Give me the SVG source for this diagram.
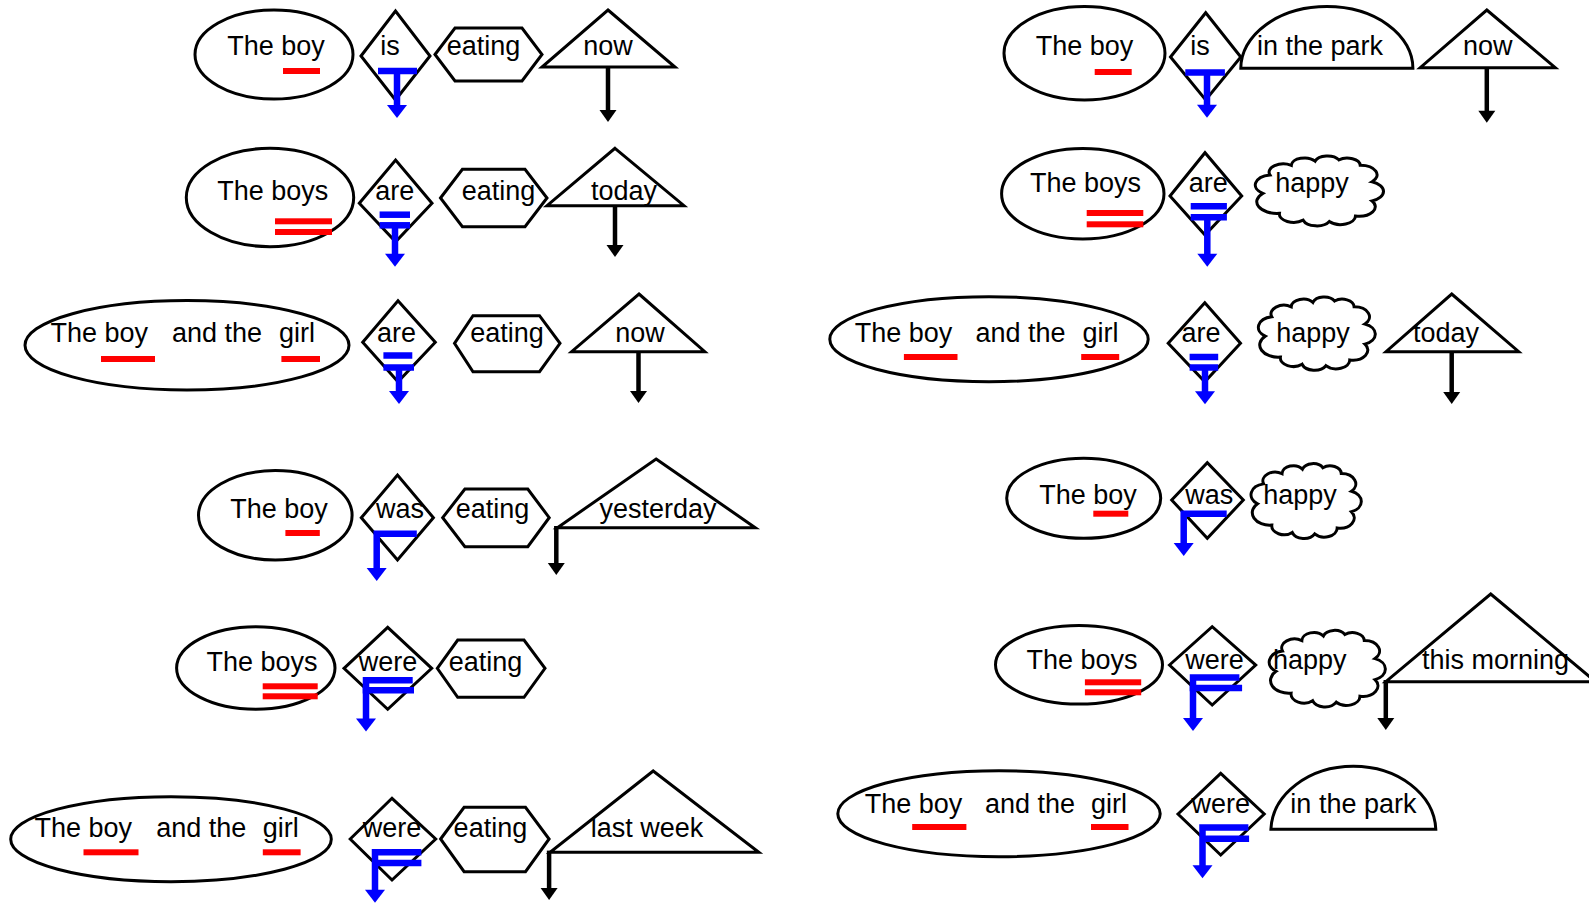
<svg xmlns="http://www.w3.org/2000/svg" xmlns:xlink="http://www.w3.org/1999/xlink" width="1589" height="903" viewBox="0 0 1589 903">
<style>
.s{fill:none;stroke:#000;stroke-width:3;stroke-linejoin:miter}
.t{font-family:"Liberation Sans",Arial,sans-serif;font-size:27px;fill:#000}
.m{text-anchor:middle}
.r{fill:#f00;stroke:none}
.b{fill:none;stroke:#00f;stroke-width:6.5}
.k{fill:none;stroke:#000;stroke-width:4.5}
.cl{fill:none;stroke:#000;stroke-width:3;vector-effect:non-scaling-stroke}
</style>
<defs>
<marker id="ab" markerUnits="userSpaceOnUse" markerWidth="14" markerHeight="20" refX="1" refY="10" orient="auto" overflow="visible"><path d="M0,0 L13,10 L0,20 Z" fill="#00f"/></marker>
<marker id="ak" markerUnits="userSpaceOnUse" markerWidth="13" markerHeight="17" refX="1" refY="8.5" orient="auto" overflow="visible"><path d="M0,0 L12,8.5 L0,17 Z" fill="#000"/></marker>
<path id="cloud" class="cl" d="M4,55 A15,15 0 0 1 10,28 A12,12 0 0 1 28,14 A11,11 0 0 1 48,8 A11,11 0 0 1 68,6 A11,11 0 0 1 86,14 A14,14 0 0 1 96,38 A15,15 0 0 1 96,66 A14,14 0 0 1 82,88 A12.5,12.5 0 0 1 60,96 A12,12 0 0 1 38,94 A12,12 0 0 1 18,84 A17,17 0 0 1 4,55 Z"/>
</defs>
<rect width="1589" height="903" fill="#fff"/>

<!-- Row 1 left -->
<g id="L1-subject"><ellipse class="s" cx="274" cy="54.5" rx="79" ry="44.5"/><text class="t m" x="276" y="55">The boy</text><rect class="r" x="283" y="68" width="37" height="6"/></g>
<g id="L1-verb"><polygon class="s" points="361,56 395.5,11 430,56 395.5,100"/><text class="t m" x="390" y="55">is</text></g>
<g id="L1-eating"><polygon class="s" points="435,54.5 455,28 522,28 542,54.5 522,81 455,81"/><text class="t m" x="483.5" y="55">eating</text></g>
<g id="L1-time"><polygon class="s" points="608,10 675,67 542,67"/><text class="t m" x="608" y="55">now</text></g>

<!-- Row 2 left -->
<g id="L2-subject"><ellipse class="s" cx="270" cy="197.5" rx="83.7" ry="49.2"/><text class="t m" x="272.7" y="200">The boys</text><rect class="r" x="275" y="218.3" width="57" height="6"/><rect class="r" x="275" y="229" width="57" height="6"/></g>
<g id="L2-verb"><polygon class="s" points="359.3,203.3 395.6,160 432,203.3 395.6,241.7"/><text class="t m" x="394.7" y="200">are</text></g>
<g id="L2-eating"><polygon class="s" points="440.5,198 462.4,169.3 525,169.3 547,198 525,226.7 462.4,226.7"/><text class="t m" x="498.6" y="200">eating</text></g>
<g id="L2-time"><polygon class="s" points="615,148.3 684,205.7 547,205.7"/><text class="t m" x="624" y="200">today</text></g>

<!-- Row 3 left -->
<g id="L3-subject"><ellipse class="s" cx="187" cy="345.3" rx="162" ry="44.7"/><text class="t" y="342.3"><tspan x="50.5">The boy</tspan><tspan x="172">and the</tspan><tspan x="279">girl</tspan></text><rect class="r" x="101" y="356" width="54" height="6"/><rect class="r" x="281.4" y="356" width="38.6" height="6"/></g>
<g id="L3-verb"><polygon class="s" points="362.7,342.3 398,300.7 435.3,342.3 398,381.7"/><text class="t m" x="396.5" y="342.3">are</text></g>
<g id="L3-eating"><polygon class="s" points="454.5,343.3 473,315.7 539.5,315.7 560,343.3 539.5,371.7 473,371.7"/><text class="t m" x="507" y="342.3">eating</text></g>
<g id="L3-time"><polygon class="s" points="639,294 704.8,351.7 571.6,351.7"/><text class="t m" x="640" y="342.3">now</text></g>

<!-- Row 4 left -->
<g id="L4-subject"><ellipse class="s" cx="275.3" cy="515.3" rx="76.8" ry="44.7"/><text class="t m" x="279" y="517.7">The boy</text><rect class="r" x="285.4" y="530" width="34.4" height="6"/></g>
<g id="L4-verb"><polygon class="s" points="361.3,517.7 397.5,475 433.4,517.7 397.5,560"/><text class="t m" x="400" y="517.7">was</text></g>
<g id="L4-eating"><polygon class="s" points="442.7,517.7 464.9,489 527.8,489 549.2,517.7 527.8,546.7 464.9,546.7"/><text class="t m" x="492.6" y="517.7">eating</text></g>
<g id="L4-time"><polygon class="s" points="656.1,459 755.3,527.7 557.4,527.7"/><text class="t m" x="658" y="517.7">yesterday</text></g>

<!-- Row 5 left -->
<g id="L5-subject"><ellipse class="s" cx="255.8" cy="668" rx="79.2" ry="41.3"/><text class="t m" x="262" y="671">The boys</text><rect class="r" x="262.7" y="683.3" width="55" height="6"/><rect class="r" x="262.7" y="693.3" width="55" height="6"/></g>
<g id="L5-verb"><polygon class="s" points="344,668.3 387.7,627.3 431.7,668.3 387.7,709.3"/><text class="t m" x="388" y="671">were</text></g>
<g id="L5-eating"><polygon class="s" points="437.3,668.3 457.7,640 524,640 545,668.3 524,697.3 457.7,697.3"/><text class="t m" x="485.5" y="671">eating</text></g>

<!-- Row 6 left -->
<g id="L6-subject"><ellipse class="s" cx="171" cy="839.2" rx="160.3" ry="42.5"/><text class="t" y="836.7"><tspan x="34.4">The boy</tspan><tspan x="156.2">and the</tspan><tspan x="262.8">girl</tspan></text><rect class="r" x="83.5" y="849.3" width="55" height="6"/><rect class="r" x="262.8" y="849.3" width="37.8" height="6"/></g>
<g id="L6-verb"><polygon class="s" points="350.2,839 392,798.3 435.7,839 392,880"/><text class="t m" x="392" y="836.7">were</text></g>
<g id="L6-eating"><polygon class="s" points="440.6,839 464.1,807.3 525.5,807.3 549.1,839 525.5,871.7 464.1,871.7"/><text class="t m" x="490.4" y="836.7">eating</text></g>
<g id="L6-time"><polygon class="s" points="653.2,771 758.8,852.3 550.1,852.3"/><text class="t m" x="647" y="836.7">last week</text></g>

<!-- Row 1 right -->
<g id="R1-subject"><ellipse class="s" cx="1084.5" cy="53.3" rx="80.5" ry="46.7"/><text class="t m" x="1084.5" y="55">The boy</text><rect class="r" x="1094.7" y="69" width="37" height="6"/></g>
<g id="R1-verb"><polygon class="s" points="1170.5,57 1205.7,12.7 1240.8,57 1205.7,100"/><text class="t m" x="1200" y="55">is</text></g>
<g id="R1-place"><path class="s" d="M1240.8,68.3 A86,61.7 0 0 1 1412.9,68.3 Z"/><text class="t m" x="1320" y="55">in the park</text></g>
<g id="R1-time"><polygon class="s" points="1486.8,10 1555.3,67.7 1420.2,67.7"/><text class="t m" x="1487.8" y="55">now</text></g>

<!-- Row 2 right -->
<g id="R2-subject"><ellipse class="s" cx="1082.8" cy="193.7" rx="81.2" ry="45.3"/><text class="t m" x="1085.5" y="192.3">The boys</text><rect class="r" x="1086.7" y="210" width="56.6" height="6"/><rect class="r" x="1086.7" y="221.3" width="56.6" height="6"/></g>
<g id="R2-verb"><polygon class="s" points="1170,196 1205,152.7 1241.7,196 1205,235"/><text class="t m" x="1208.3" y="192.3">are</text></g>
<g id="R2-happy"><use xlink:href="#cloud" transform="translate(1258.05,155.7) scale(1.188,0.686)"/><text class="t m" x="1312" y="192.3">happy</text></g>

<!-- Row 3 right -->
<g id="R3-subject"><ellipse class="s" cx="989" cy="339.2" rx="159.2" ry="42.5"/><text class="t" y="342.3"><tspan x="854.8">The boy</tspan><tspan x="975.4">and the</tspan><tspan x="1082.5">girl</tspan></text><rect class="r" x="903.9" y="354" width="53.6" height="6"/><rect class="r" x="1081.2" y="354" width="38" height="6"/></g>
<g id="R3-verb"><polygon class="s" points="1168.2,343.3 1204.8,302.7 1240.5,343.3 1204.8,381.7"/><text class="t m" x="1201" y="342.3">are</text></g>
<g id="R3-happy"><use xlink:href="#cloud" transform="translate(1260.9,296.7) scale(1.0836,0.7186)"/><text class="t m" x="1313" y="342.3">happy</text></g>
<g id="R3-time"><polygon class="s" points="1451.7,294 1518.7,351.7 1386,351.7"/><text class="t m" x="1446" y="342.3">today</text></g>

<!-- Row 4 right -->
<g id="R4-subject"><ellipse class="s" cx="1083.7" cy="498.3" rx="77" ry="40"/><text class="t m" x="1088" y="504">The boy</text><rect class="r" x="1093.3" y="510.7" width="35" height="6"/></g>
<g id="R4-verb"><polygon class="s" points="1171.7,500 1207.3,462.7 1243.3,500 1207.3,538.3"/><text class="t m" x="1209.3" y="504">was</text></g>
<g id="R4-happy"><use xlink:href="#cloud" transform="translate(1253.4,463.3) scale(1.0218,0.735)"/><text class="t m" x="1300" y="504">happy</text></g>

<!-- Row 5 right -->
<g id="R5-subject"><ellipse class="s" cx="1079" cy="664.8" rx="83.5" ry="39.2"/><text class="t m" x="1082" y="669.3">The boys</text><rect class="r" x="1084.9" y="679.3" width="56.3" height="6"/><rect class="r" x="1084.9" y="689.3" width="56.3" height="6"/></g>
<g id="R5-verb"><polygon class="s" points="1169.5,665 1212.2,626.7 1255.7,665 1212.2,705"/><text class="t m" x="1214.5" y="669.3">were</text></g>
<g id="R5-happy"><use xlink:href="#cloud" transform="translate(1271.7,630) scale(1.0764,0.752)"/><text class="t m" x="1309.7" y="669.3">happy</text></g>
<g id="R5-time"><polygon class="s" points="1490.7,594 1595.6,681.7 1385.8,681.7"/><text class="t m" x="1495.5" y="669.3">this morning</text></g>

<!-- Row 6 right -->
<g id="R6-subject"><ellipse class="s" cx="999" cy="813.7" rx="161.2" ry="43"/><text class="t" y="812.7"><tspan x="864.8">The boy</tspan><tspan x="985">and the</tspan><tspan x="1091">girl</tspan></text><rect class="r" x="912.2" y="824" width="54.2" height="6"/><rect class="r" x="1091" y="824" width="37.5" height="6"/></g>
<g id="R6-verb"><polygon class="s" points="1178,814 1220.7,773.3 1264.2,814 1220.7,855"/><text class="t m" x="1220.8" y="812.7">were</text></g>
<g id="R6-place"><path class="s" d="M1270.9,829.3 A82.5,65.3 0 0 1 1435.8,829.3 Z"/><text class="t m" x="1353.4" y="812.7">in the park</text></g>

<g id="connectors">
<!-- blue tense markers -->
<line class="b" x1="378" y1="71" x2="417" y2="71"/><line class="b" x1="397" y1="71" x2="397" y2="106" marker-end="url(#ab)"/>
<line class="b" x1="379.6" y1="214.7" x2="410" y2="214.7"/><line class="b" x1="379.6" y1="225.3" x2="410" y2="225.3"/><line class="b" x1="395" y1="225" x2="395" y2="254.7" marker-end="url(#ab)"/>
<line class="b" x1="383.4" y1="355.5" x2="412.3" y2="355.5"/><line class="b" x1="383.4" y1="367.5" x2="414" y2="367.5"/><line class="b" x1="399" y1="367" x2="399" y2="392" marker-end="url(#ab)"/>
<path class="b" d="M416.8,533.7 H376.7 V569" marker-end="url(#ab)"/>
<path class="b" d="M412.7,680.3 H366 V719.6" marker-end="url(#ab)"/><line class="b" x1="362.7" y1="690.3" x2="414" y2="690.3"/>
<path class="b" d="M421.4,852.2 H375 V890.7" marker-end="url(#ab)"/><line class="b" x1="375.7" y1="862.9" x2="421.4" y2="862.9"/>
<line class="b" x1="1185.3" y1="72.5" x2="1224.9" y2="72.5"/><line class="b" x1="1207" y1="72.5" x2="1207" y2="105.7" marker-end="url(#ab)"/>
<line class="b" x1="1190.7" y1="206.3" x2="1226.9" y2="206.3"/><line class="b" x1="1190.7" y1="217.3" x2="1226.9" y2="217.3"/><line class="b" x1="1207.3" y1="217" x2="1207.3" y2="254.7" marker-end="url(#ab)"/>
<line class="b" x1="1189.6" y1="357" x2="1218.2" y2="357"/><line class="b" x1="1189.6" y1="367.5" x2="1218.2" y2="367.5"/><line class="b" x1="1205" y1="367" x2="1205" y2="392.3" marker-end="url(#ab)"/>
<path class="b" d="M1226.7,513.7 H1183.7 V544" marker-end="url(#ab)"/>
<path class="b" d="M1239.4,677.5 H1193 V719" marker-end="url(#ab)"/><line class="b" x1="1189.7" y1="688" x2="1242.1" y2="688"/>
<path class="b" d="M1248.4,827.5 H1202.5 V866.3" marker-end="url(#ab)"/><line class="b" x1="1203.7" y1="838.7" x2="1249.1" y2="838.7"/>
<!-- black time arrows -->
<line class="k" x1="608" y1="67" x2="608" y2="111" marker-end="url(#ak)"/>
<line class="k" x1="615" y1="205.7" x2="615" y2="246" marker-end="url(#ak)"/>
<line class="k" x1="638.5" y1="351.7" x2="638.5" y2="392" marker-end="url(#ak)"/>
<line class="k" x1="556.3" y1="526" x2="556.3" y2="564" marker-end="url(#ak)"/>
<line class="k" x1="549.1" y1="850.6" x2="549.1" y2="889" marker-end="url(#ak)"/>
<line class="k" x1="1486.8" y1="67.7" x2="1486.8" y2="111.7" marker-end="url(#ak)"/>
<line class="k" x1="1451.7" y1="351.7" x2="1451.7" y2="393" marker-end="url(#ak)"/>
<line class="k" x1="1385.8" y1="680" x2="1385.8" y2="719" marker-end="url(#ak)"/>
</g>
</svg>
